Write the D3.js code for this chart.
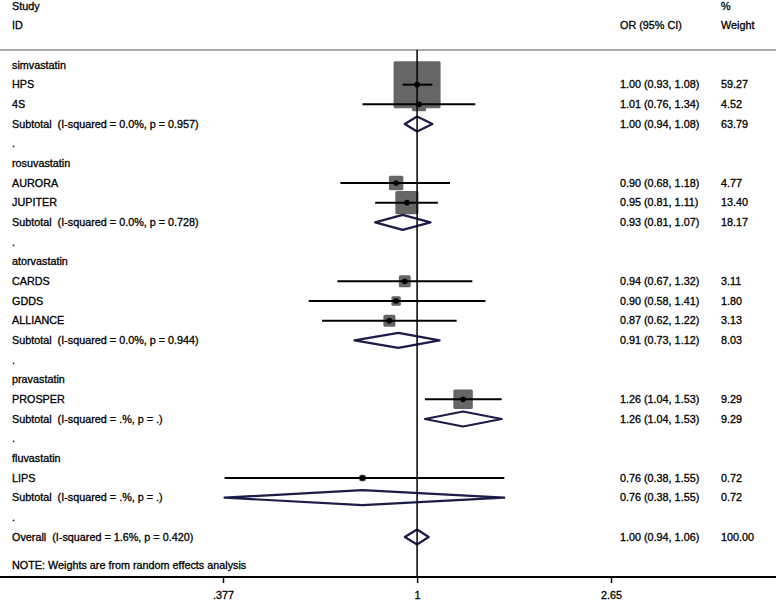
<!DOCTYPE html>
<html>
<head>
<meta charset="utf-8">
<script src="https://cdn.jsdelivr.net/npm/d3@7"></script>
<style>
  html, body { margin: 0; padding: 0; background: #fff; }
  svg text { font-family: Arial, "Liberation Sans", sans-serif; font-size: 10.8px; fill: #000; white-space: pre; stroke: #000; stroke-width: 0.3px; }
</style>
</head>
<body>
<svg id="chart" width="778" height="602"></svg>
<script>
// ---------- data ----------
const rowLabels = [
  "simvastatin", "HPS", "4S", "Subtotal  (I-squared = 0.0%, p = 0.957)", ".",
  "rosuvastatin", "AURORA", "JUPITER", "Subtotal  (I-squared = 0.0%, p = 0.728)", ".",
  "atorvastatin", "CARDS", "GDDS", "ALLIANCE", "Subtotal  (I-squared = 0.0%, p = 0.944)", ".",
  "pravastatin", "PROSPER", "Subtotal  (I-squared = .%, p = .)", ".",
  "fluvastatin", "LIPS", "Subtotal  (I-squared = .%, p = .)", ".",
  "Overall  (I-squared = 1.6%, p = 0.420)"
];
const rowKinds = [
  "group", "study", "study", "sub", "gap",
  "group", "study", "study", "sub", "gap",
  "group", "study", "study", "study", "sub", "gap",
  "group", "study", "sub", "gap",
  "group", "study", "sub", "gap",
  "overall"
];
const orValues = [
  null, 1.00, 1.01, 1.00, null,
  null, 0.90, 0.95, 0.93, null,
  null, 0.94, 0.90, 0.87, 0.91, null,
  null, 1.26, 1.26, null,
  null, 0.76, 0.76, null,
  1.00
];
const ciLower = [
  null, 0.93, 0.76, 0.94, null,
  null, 0.68, 0.81, 0.81, null,
  null, 0.67, 0.58, 0.62, 0.73, null,
  null, 1.04, 1.04, null,
  null, 0.38, 0.38, null,
  0.94
];
const ciUpper = [
  null, 1.08, 1.34, 1.08, null,
  null, 1.18, 1.11, 1.07, null,
  null, 1.32, 1.41, 1.22, 1.12, null,
  null, 1.53, 1.53, null,
  null, 1.55, 1.55, null,
  1.06
];
const weights = [
  null, 59.27, 4.52, 63.79, null,
  null, 4.77, 13.40, 18.17, null,
  null, 3.11, 1.80, 3.13, 8.03, null,
  null, 9.29, 9.29, null,
  null, 0.72, 0.72, null,
  100.00
];
const tickValues = [0.377, 1, 2.65];
const tickLabels = [".377", "1", "2.65"];
const noteText = "NOTE: Weights are from random effects analysis";

// ---------- layout ----------
const svg = d3.select("#chart");
const x = d3.scaleLog().domain([0.377, 2.65]).range([223, 611]);
const y = d3.scaleLinear().domain([0, rowLabels.length - 1]).range([65, 537]);
const side = d3.scaleSqrt().domain([0, 59.27]).range([0, 45.5]);
const rows = rowLabels.map((l, i) => ({ i, label: l, kind: rowKinds[i], or: orValues[i], lo: ciLower[i], hi: ciUpper[i], w: weights[i] }));

const topRule = 50, axisY = 577;
const navy = "#1c1c48";

// header
svg.append("text").attr("x", 12).attr("y", 6.5).attr("dy", "0.35em").text("Study");
svg.append("text").attr("x", 12).attr("y", 25).attr("dy", "0.35em").text("ID");
svg.append("text").attr("x", 620).attr("y", 25).attr("dy", "0.35em").text("OR (95% CI)");
svg.append("text").attr("x", 721).attr("y", 6.5).attr("dy", "0.35em").text("%");
svg.append("text").attr("x", 721).attr("y", 25).attr("dy", "0.35em").text("Weight");
svg.append("line").attr("x1", 0).attr("x2", 776).attr("y1", topRule).attr("y2", topRule)
  .attr("stroke", "#8c8c8c").attr("stroke-width", 1.5);

// labels
svg.append("g").selectAll("text").data(rows).join("text")
  .attr("x", 12).attr("y", d => y(d.i)).attr("dy", "0.35em").text(d => d.label);

const withVals = rows.filter(d => d.or !== null);
svg.append("g").selectAll("text").data(withVals).join("text")
  .attr("x", 620).attr("y", d => y(d.i)).attr("dy", "0.35em")
  .text(d => `${d.or.toFixed(2)} (${d.lo.toFixed(2)}, ${d.hi.toFixed(2)})`);
svg.append("g").selectAll("text").data(withVals).join("text")
  .attr("x", 721).attr("y", d => y(d.i)).attr("dy", "0.35em")
  .text(d => d.w.toFixed(2));

// squares
const studies = rows.filter(d => d.kind === "study");
svg.append("g").selectAll("rect").data(studies).join("rect")
  .attr("x", d => x(d.or) - (side(d.w) + 1.5) / 2)
  .attr("y", d => y(d.i) - (side(d.w) + 1.5) / 2)
  .attr("width", d => side(d.w) + 1.5)
  .attr("height", d => side(d.w) + 1.5)
  .attr("rx", 1.5)
  .attr("fill", "#666666");

// diamonds
const pooled = rows.filter(d => d.kind === "sub" || d.kind === "overall");
const dh = 7.5;
svg.append("g").selectAll("path").data(pooled).join("path")
  .attr("d", d => {
    const cy = y(d.i);
    return `M${x(d.lo)},${cy} L${x(d.or)},${cy - dh} L${x(d.hi)},${cy} L${x(d.or)},${cy + dh} Z`;
  })
  .attr("fill", "#fff").attr("stroke", navy).attr("stroke-width", 2.2).attr("stroke-linejoin", "round");

// reference line at 1
svg.append("line").attr("x1", x(1)).attr("x2", x(1)).attr("y1", topRule).attr("y2", axisY)
  .attr("stroke", "#000").attr("stroke-width", 1.5);

// CI lines
svg.append("g").selectAll("line").data(studies).join("line")
  .attr("x1", d => x(d.lo)).attr("x2", d => x(d.hi))
  .attr("y1", d => y(d.i)).attr("y2", d => y(d.i))
  .attr("stroke", "#000").attr("stroke-width", 2);

// points
svg.append("g").selectAll("circle").data(studies).join("circle")
  .attr("cx", d => x(d.or)).attr("cy", d => y(d.i)).attr("r", 2.8)
  .attr("fill", "#000");

// note
svg.append("text").attr("x", 12).attr("y", 565).attr("dy", "0.35em").text(noteText);

// axis
const axis = d3.axisBottom(x).tickValues(tickValues).tickFormat((d, i) => tickLabels[i]).tickSize(6).tickSizeOuter(0);
const ag = svg.append("g").attr("transform", `translate(0,${axisY})`).call(axis);
ag.select(".domain").remove();
ag.selectAll(".tick line").attr("stroke", "#000").attr("stroke-width", 1.5);
ag.selectAll(".tick text").attr("y", 14).attr("dy", "0.71em")
  .style("font-family", "Arial, 'Liberation Sans', sans-serif").style("font-size", "10.8px");
svg.append("line").attr("x1", 0).attr("x2", 776).attr("y1", axisY).attr("y2", axisY)
  .attr("stroke", "#000").attr("stroke-width", 2);
</script>
</body>
</html>
